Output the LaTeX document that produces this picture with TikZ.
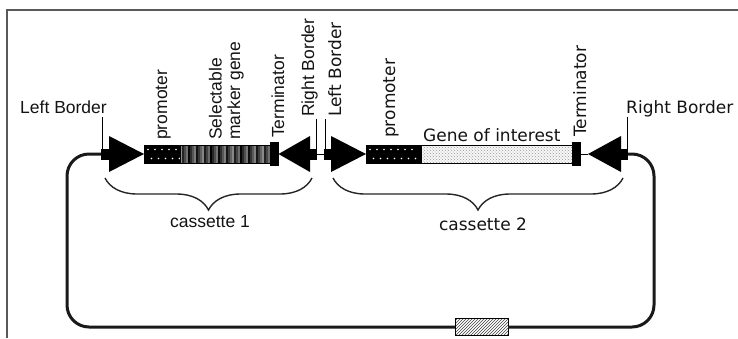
\documentclass[tikz,border=0pt]{standalone}
\usepackage{fontspec}
\setmainfont{Liberation Sans}
\newfontfamily\comicf{DejaVu Sans}
\usetikzlibrary{decorations.pathreplacing,patterns}
\begin{document}
\begin{tikzpicture}[x=1pt,y=-1pt,
  lbl/.style={inner sep=0, text=black!92, font=\fontsize{17.5}{18.5}\selectfont},
  clbl/.style={inner sep=0, text=black!92, font=\comicf\fontsize{17}{19}\selectfont},
  vlabel/.style={rotate=90, anchor=base west},
  stemnode/.style={fill=black, minimum width=7, minimum height=11, inner sep=0, outer sep=0, anchor=west},
  seg/.style={draw=black, line width=0.9, minimum height=18, inner sep=0, outer sep=0, anchor=west},
  termnode/.style={fill=black, minimum width=8.5, minimum height=24, inner sep=0, outer sep=0, anchor=west},
  ticklink/.style={black, line width=1},
  backbone/.style={black, line width=1},
  loopline/.style={black!90, line width=3, rounded corners=22},
  bracestyle/.style={decorate, decoration={brace, mirror, amplitude=32}, black!85, line width=1.4},
  outerframe/.style={black!65, line width=1.4}]
\useasboundingbox (0,0) rectangle (738,338);
\fill[white] (0,0) rectangle (738,338);
\draw[outerframe] (7,338) -- (7,10) -- (738,10);

% ---------- cassette 1 ----------
\node[stemnode, minimum width=8] (lb1) at (101,154) {};
\node[seg, fill=black, minimum width=36] (p1) at (144,154) {};
\fill (lb1.east) ++(0,-18) -- ++(0,36) -- (p1.west) -- cycle;
\foreach \xx in {148,155,...,176} {
  \fill[white] (\xx,149.5) circle (0.8);
  \fill[white] ({\xx+3.5},158.5) circle (0.8);
}
\node[seg, fill=white, minimum width=90] (smg) at (180,154) {};
\foreach \i in {0,...,44} {
  \pgfmathtruncatemacro\gv{45+mod(\i*41,56)}
  \draw[black!\gv, line width=1.1] ({181+2*\i},145.5) -- ({181+2*\i},162.5);
}
\draw[line width=0.9] (smg.south west) rectangle (smg.north east);
\node[termnode] (t1) at (270,154) {};
\node[stemnode] (rb1) at (310,154) {};
\fill (rb1.west) ++(0,-18) -- ++(0,36) -- (t1.east) -- cycle;

% ---------- cassette 2 ----------
\node[stemnode] (lb2) at (324,154) {};
\draw[backbone] (rb1.east) -- (lb2.west);
\node[seg, fill=black, minimum width=55] (p2) at (366,154) {};
\fill (lb2.east) ++(0,-18) -- ++(0,36) -- (p2.west) -- cycle;
\foreach \xx in {370,377,...,416} {
  \fill[white] (\xx,149.5) circle (0.8);
  \fill[white] ({\xx+3.5},158.5) circle (0.8);
}
\node[seg, fill=gray!6, minimum width=151] (goi) at (421,154) {};
\fill[pattern=crosshatch dots, pattern color=black!40] (goi.south west) rectangle (goi.north east);
\draw[line width=0.9] (goi.south west) rectangle (goi.north east);
\node[termnode] (t2) at (572,154) {};
\node[stemnode] (rb2) at (621,154) {};
\coordinate (rb2tip) at (588,154);
\fill (rb2.west) ++(0,-18) -- ++(0,36) -- (rb2tip) -- cycle;
\draw[backbone] (t2.east) -- (rb2tip);

% ---------- border ticks and labels ----------
\node[lbl, anchor=base east] (lb1lab) at (107,113) {Left Border};
\draw[ticklink] ([xshift=-3]lb1.north) -- ++(0,-32);
\node[lbl, vlabel] (rb1lab) at (314,117) {Right Border};
\draw[ticklink] ([xshift=-0.5]rb1.north east) -- ++(0,-30);
\node[clbl, vlabel] (lb2lab) at (341,117) {Left Border};
\draw[ticklink] ([xshift=1]lb2.north west) -- ++(0,-30);
\node[clbl, anchor=base west] (rb2lab) at (626,113) {Right Border};
\draw[ticklink] ([xshift=-1]rb2.north east) -- ++(0,-32);

\node[lbl, vlabel] (p1lab) at (167,140) {promoter};
\node[lbl, rotate=90, anchor=south west, align=left] (smglab) at (244,140) {Selectable\\marker gene};
\node[lbl, vlabel] (t1lab) at (284,138) {Terminator};
\node[clbl, vlabel] (p2lab) at (395,138) {promoter};
\node[clbl, anchor=base west] (goilab) at (423,141) {Gene of interest};
\node[clbl, vlabel] (t2lab) at (586,137) {Terminator};

% ---------- braces ----------
\coordinate (b1a) at (105,178);
\coordinate (b1b) at (312,178);
\draw[bracestyle] (b1a) -- (b1b);
\node[lbl] (c1lab) at (210,222) {cassette 1};
\coordinate (b2a) at (333,178);
\coordinate (b2b) at (623,178);
\draw[bracestyle] (b2a) -- (b2b);
\node[clbl] (c2lab) at (483,224) {cassette 2};

% ---------- origin box and loop ----------
\node[draw=black, line width=1, fill=white, minimum width=53, minimum height=17, inner sep=0, outer sep=0] (ori) at (481.5,327) {};
\fill[pattern=north east lines, pattern color=black!75] (ori.south west) rectangle (ori.north east);
\draw[line width=1] (ori.south west) rectangle (ori.north east);
\coordinate (lpBL) at (67,327);
\coordinate (lpTR) at (654,154);
\draw[loopline] (lb1.west) -| (lpBL) -- (ori.west);
\draw[loopline] (ori.east) -| (lpTR) -- (rb2.east);
\end{tikzpicture}
\end{document}
